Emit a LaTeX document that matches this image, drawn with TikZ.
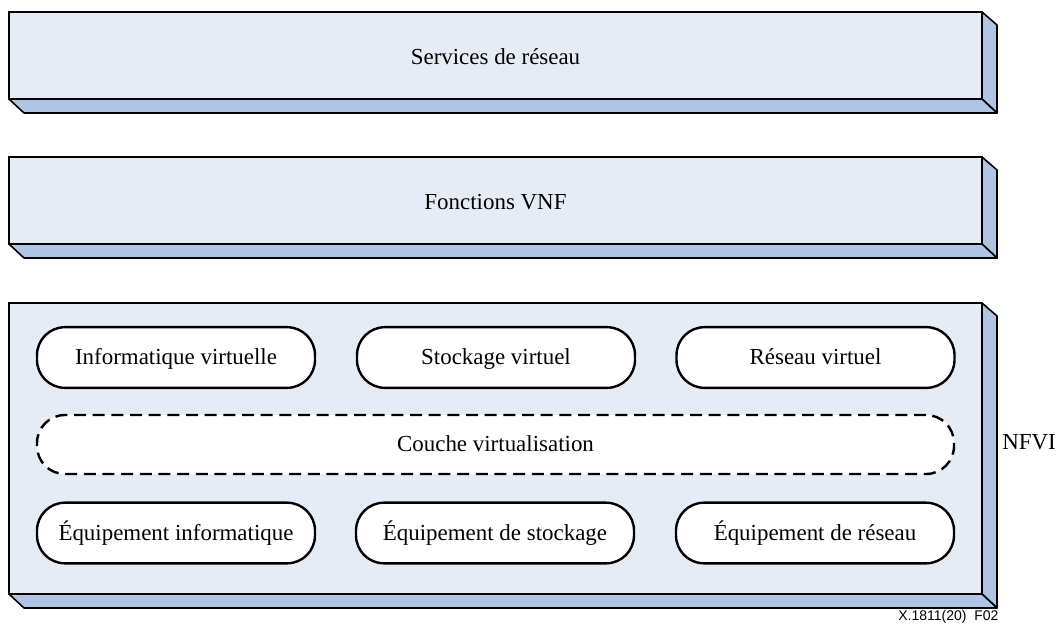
\documentclass[tikz,border=0pt]{standalone}
\usepackage{fontspec}
\setmainfont{Liberation Serif}
\newfontfamily\refsans{Liberation Sans}
\definecolor{faceBlue}{RGB}{230,236,246}
\definecolor{sideBlue}{RGB}{176,196,228}

\tikzset{every picture/.style={line width=0.75pt}}

% one 3-D slab: #1,#2 top-left, #3,#4 bottom-right of the front face
\newcommand{\slab}[4]{%
  \draw [line width=1.2pt, fill=faceBlue] (#1,#2) -- (#3,#2) -- (#3,#4) -- (#1,#4) -- cycle ;
  \draw [line width=1.2pt, fill=sideBlue, line join=round] (#3,#2) -- (#3+15,#2+13) -- (#3+15,#4+14) -- (#3,#4) -- cycle ;
  \draw [line width=1.2pt, fill=sideBlue, line join=round] (#1,#4) -- (#3,#4) -- (#3+15,#4+14) -- (#1+15,#4+14) -- cycle ;
}

\begin{document}
\begin{tikzpicture}[x=0.75pt,y=0.75pt,yscale=-1,xscale=1,
  txt/.style={inner sep=0.75pt, font=\fontsize{17.2}{20}\selectfont},
  pill/.style={txt, draw, fill=white, line width=1.8pt, rounded corners=21pt,
    minimum width=208.5pt, minimum height=45.5pt, text height=13pt, text depth=2pt},
  dashpill/.style={pill, dashed, dash pattern=on 9pt off 5pt, minimum width=687.75pt, minimum height=44.25pt}]
\useasboundingbox (0,0) rectangle (1059,629);

%Shape: Slab [services]
\slab{9}{12}{982}{99}
%Shape: Slab [vnf]
\slab{9}{157}{982}{244}
%Shape: Slab [nfvi]
\slab{9}{303}{982}{594}

% Text Node
\node [txt] (services) at (495.5,57) {Services de réseau};
% Text Node
\node [txt] (vnf) at (495.5,202) {Fonctions VNF};

% virtual resources
\node [pill] (vcompute) at (176,357.5) {Informatique virtuelle};
\node [pill] (vstorage) at (496,357.5) {Stockage virtuel};
\node [pill] (vnetwork) at (815.5,357.5) {Réseau virtuel};

% virtualisation layer
\node [dashpill] (virtlayer) at (495.5,444.5) {Couche virtualisation};

% hardware resources
\node [pill] (hwcompute) at (176,533) {Équipement informatique};
\node [pill] (hwstorage) at (495,533) {Équipement de stockage};
\node [pill] (hwnetwork) at (815,533) {Équipement de réseau};

% Text Node
\node [txt] (nfvi) at (1029,442) {NFVI};
% Text Node
\node [inner sep=0.75pt, anchor=east, font=\refsans\fontsize{10.5}{12}\selectfont] (figref) at (1000,617) {X.1811(20)\ \ F02};
\end{tikzpicture}
\end{document}
